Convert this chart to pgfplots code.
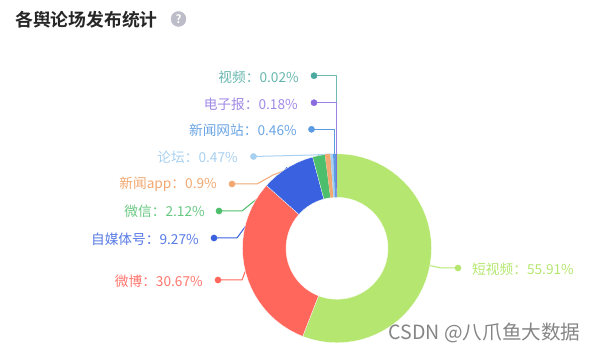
\documentclass[border=0pt]{standalone}
\usepackage{pgfplots}
\pgfplotsset{compat=1.18}
\usepackage{fontspec}
\setmainfont{Noto Sans CJK SC}
\newfontfamily\boldcjk{Noto Sans CJK SC Bold}
\definecolor{cShort}{HTML}{B5E770}
\definecolor{cWeibo}{HTML}{FF675D}
\definecolor{cMedia}{HTML}{3A62E0}
\definecolor{cWeixin}{HTML}{4DBE6C}
\definecolor{cApp}{HTML}{F2A870}
\definecolor{cForum}{HTML}{A8D0F0}
\definecolor{cNews}{HTML}{5A9BE2}
\definecolor{cPaper}{HTML}{8A6CE0}
\definecolor{cVideo}{HTML}{4BA9A0}
\definecolor{cHelp}{HTML}{BDBDC9}
\begin{document}
\begin{tikzpicture}
\useasboundingbox (0,0) rectangle (595bp,354bp);
\begin{axis}[
  at={(0,0)},anchor=south west,
  scale only axis,width=595bp,height=354bp,
  xmin=-337,xmax=258,ymin=-105.7,ymax=248.3,
  axis lines=none,clip=false,
  every axis plot/.append style={line join=round},
]
% leader lines
\addplot[cVideo!80!white,line width=1bp] coordinates {(-23,172.6)(-0.3,172.6)(-0.3,94)};
\addplot[cPaper!85!white,line width=1bp] coordinates {(-23,145.6)(-1,145.6)(-1,94)};
\addplot[cNews,line width=1bp] coordinates {(-25.5,119)(-2.7,119)(-2.7,94)};
\addplot[cForum,line width=1bp] coordinates {(-83.5,91.8)(-24,93.3)(-5,94.3)};
\addplot[cApp,line width=1bp] coordinates {(-105,64.3)(-80,64.3)(-64,73.3)(-9.5,94)};
\addplot[cWeixin,line width=1bp] coordinates {(-118,37.3)(-95,37.3)(-84,46.3)(-18,92.7)};
\addplot[cMedia,line width=1bp] coordinates {(-123,10.3)(-100,10.3)(-92,21.3)(-50,81)};
\addplot[cWeibo,line width=1bp] coordinates {(-119,-31.7)(-95,-31.7)(-92,-23.7)(-90,-22)};
\addplot[cShort,line width=1bp] coordinates {(121,-19.7)(104,-19.7)(95,-17.7)(90,-17)};
% markers
\addplot[only marks,mark=*,mark size=3.1bp,cVideo] coordinates {(-23,172.6)};
\addplot[only marks,mark=*,mark size=3.1bp,cPaper] coordinates {(-23,145.6)};
\addplot[only marks,mark=*,mark size=3.1bp,cNews] coordinates {(-25.5,119)};
\addplot[only marks,mark=*,mark size=3.1bp,cForum] coordinates {(-83.5,91.8)};
\addplot[only marks,mark=*,mark size=3.1bp,cApp] coordinates {(-105,64.3)};
\addplot[only marks,mark=*,mark size=3.1bp,cWeixin] coordinates {(-118,37.3)};
\addplot[only marks,mark=*,mark size=3.1bp,cMedia] coordinates {(-123,10.3)};
\addplot[only marks,mark=*,mark size=3.1bp,cWeibo] coordinates {(-119,-31.7)};
\addplot[only marks,mark=*,mark size=3.1bp,cShort] coordinates {(121,-19.7)};
% donut slices: (angle, radius); share x 3.6 = sweep
% 短视频 55.91
\addplot[data cs=polar,fill=cShort,draw=white,line width=.3bp] coordinates {
(90,94.5)(85,94.5)(80,94.5)(75,94.5)(70,94.5)(65,94.5)(60,94.5)(55,94.5)(50,94.5)(45,94.5)(40,94.5)(35,94.5)(30,94.5)(25,94.5)(20,94.5)(15,94.5)(10,94.5)(5,94.5)(0,94.5)
(-5,94.5)(-10,94.5)(-15,94.5)(-20,94.5)(-25,94.5)(-30,94.5)(-35,94.5)(-40,94.5)(-45,94.5)(-50,94.5)(-55,94.5)(-60,94.5)(-65,94.5)(-70,94.5)(-75,94.5)(-80,94.5)(-85,94.5)(-90,94.5)(-95,94.5)(-100,94.5)(-105,94.5)(-110,94.5)(-111.28,94.5)
(-111.28,51)(-110,51)(-105,51)(-100,51)(-95,51)(-90,51)(-85,51)(-80,51)(-75,51)(-70,51)(-65,51)(-60,51)(-55,51)(-50,51)(-45,51)(-40,51)(-35,51)(-30,51)(-25,51)(-20,51)(-15,51)(-10,51)(-5,51)
(0,51)(5,51)(10,51)(15,51)(20,51)(25,51)(30,51)(35,51)(40,51)(45,51)(50,51)(55,51)(60,51)(65,51)(70,51)(75,51)(80,51)(85,51)(90,51)} -- cycle;
% 微博 30.67
\addplot[data cs=polar,fill=cWeibo,draw=white,line width=.3bp] coordinates {
(-111.28,94.5)(-115,94.5)(-120,94.5)(-125,94.5)(-130,94.5)(-135,94.5)(-140,94.5)(-145,94.5)(-150,94.5)(-155,94.5)(-160,94.5)(-165,94.5)(-170,94.5)(-175,94.5)(-180,94.5)(-185,94.5)(-190,94.5)(-195,94.5)(-200,94.5)(-205,94.5)(-210,94.5)(-215,94.5)(-220,94.5)(-221.69,94.5)
(-221.69,51)(-220,51)(-215,51)(-210,51)(-205,51)(-200,51)(-195,51)(-190,51)(-185,51)(-180,51)(-175,51)(-170,51)(-165,51)(-160,51)(-155,51)(-150,51)(-145,51)(-140,51)(-135,51)(-130,51)(-125,51)(-120,51)(-115,51)(-111.28,51)} -- cycle;
% 自媒体号 9.27
\addplot[data cs=polar,fill=cMedia,draw=white,line width=.3bp] coordinates {
(-221.69,94.5)(-225,94.5)(-230,94.5)(-235,94.5)(-240,94.5)(-245,94.5)(-250,94.5)(-255.06,94.5)
(-255.06,51)(-250,51)(-245,51)(-240,51)(-235,51)(-230,51)(-225,51)(-221.69,51)} -- cycle;
% 微信 2.12
\addplot[data cs=polar,fill=cWeixin,draw=white,line width=.2bp] coordinates {
(-255.06,94.5)(-259,94.5)(-262.69,94.5)(-262.69,51)(-259,51)(-255.06,51)} -- cycle;
% 新闻app 0.9
\addplot[data cs=polar,fill=cApp,draw=none] coordinates {
(-262.69,94.5)(-264.3,94.5)(-265.93,94.5)(-265.93,51)(-262.69,51)} -- cycle;
% 论坛 0.47
\addplot[data cs=polar,fill=cForum,draw=none] coordinates {
(-265.93,94.5)(-267.62,94.5)(-267.62,51)(-265.93,51)} -- cycle;
% 新闻网站 0.46
\addplot[data cs=polar,fill=cNews,draw=none] coordinates {
(-267.62,94.5)(-269.28,94.5)(-269.28,51)(-267.62,51)} -- cycle;
% 电子报 0.18
\addplot[data cs=polar,fill=cPaper,draw=none] coordinates {
(-269.28,94.5)(-269.93,94.5)(-269.93,51)(-269.28,51)} -- cycle;
% 视频 0.02
\addplot[data cs=polar,fill=cVideo,draw=none] coordinates {
(-269.93,94.5)(-270,94.5)(-270,51)(-269.93,51)} -- cycle;
% help icon
\addplot[only marks,mark=*,mark size=7.5bp,color=cHelp] coordinates {(-158.5,229.3)};
% title
\node[anchor=west,inner sep=0pt,text=black!85,font=\boldcjk\fontsize{17.8bp}{18bp}\selectfont] at (axis cs:-322,228.3) {各舆论场发布统计};
% labels
\tikzset{lab/.style={anchor=east,inner sep=0pt,font=\fontsize{13.7bp}{14bp}\selectfont}}
\node[lab,text=cVideo!85!white] at (axis cs:-38,171.3) {视频：0.02\%};
\node[lab,text=cPaper!80!white] at (axis cs:-39,144.3) {电子报：0.18\%};
\node[lab,text=cNews!90!white] at (axis cs:-40,118.3) {新闻网站：0.46\%};
\node[lab,text=cForum] at (axis cs:-99,91.3) {论坛：0.47\%};
\node[lab,text=cApp] at (axis cs:-120,64.3) {新闻app：0.9\%};
\node[lab,text=cWeixin!85!white] at (axis cs:-132,37.3) {微信：2.12\%};
\node[lab,text=cMedia!85!white] at (axis cs:-138,9.3) {自媒体号：9.27\%};
\node[lab,text=cWeibo!90!white] at (axis cs:-134,-32.7) {微博：30.67\%};
\node[lab,anchor=west,text=cShort] at (axis cs:135,-20.7) {短视频：55.91\%};
% watermark
\node[anchor=west,inner sep=0pt,text=black!48,font=\fontsize{19.6bp}{20bp}\selectfont] at (axis cs:51.5,-84.7) {CSDN @八爪鱼大数据};
\end{axis}
\node[text=white,font=\boldcjk\fontsize{11.5bp}{12bp}\selectfont,inner sep=0pt] at (178.5bp,335bp) {?};
\end{tikzpicture}
\end{document}
